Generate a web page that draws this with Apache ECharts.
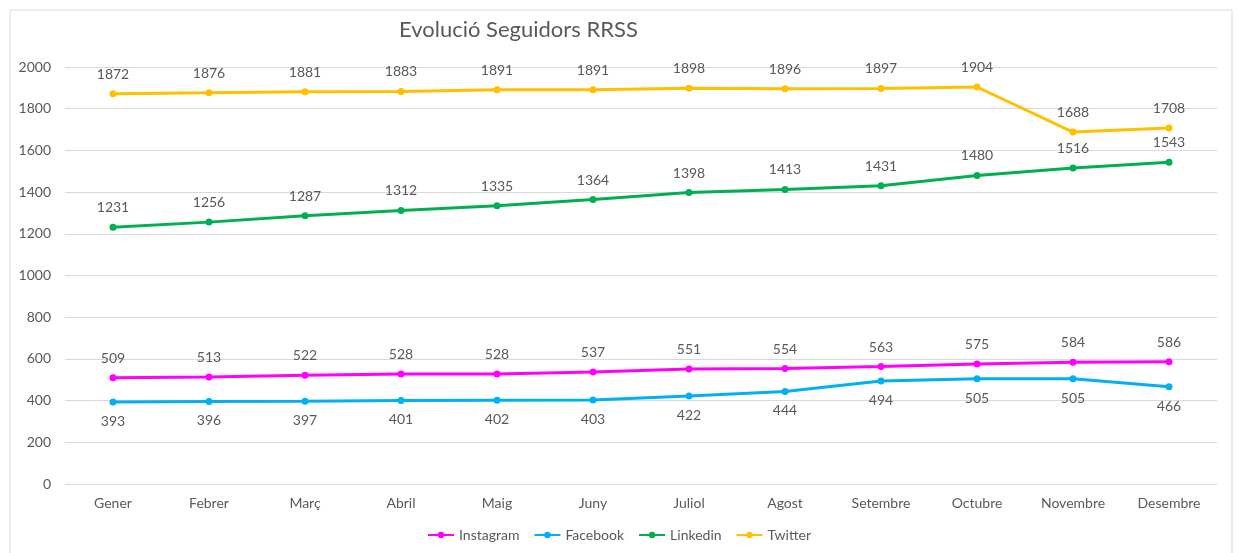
<!DOCTYPE html>
<html>
<head>
<meta charset="utf-8">
<script src="https://cdn.jsdelivr.net/npm/echarts@6/dist/echarts.min.js"></script>
<style>
  html, body { margin: 0; padding: 0; background: #fff; }
  #chart { width: 1238px; height: 553px; }
</style>
</head>
<body>
<div id="chart"></div>
<script>
// mesos
const months = ["Gener", "Febrer", "Març", "Abril", "Maig", "Juny", "Juliol", "Agost", "Setembre", "Octubre", "Novembre", "Desembre"];
// seguidors per xarxa
const instagram = [509, 513, 522, 528, 528, 537, 551, 554, 563, 575, 584, 586];
const facebook = [393, 396, 397, 401, 402, 403, 422, 444, 494, 505, 505, 466];
const linkedin = [1231, 1256, 1287, 1312, 1335, 1364, 1398, 1413, 1431, 1480, 1516, 1543];
const twitter = [1872, 1876, 1881, 1883, 1891, 1891, 1898, 1896, 1897, 1904, 1688, 1708];

const font = "Lato, 'Open Sans', sans-serif";
const textColor = "#595959";

function makeSeries(name, data, color, pos) {
  return {
    name: name,
    type: "line",
    data: data,
    symbol: "circle",
    symbolSize: 7,
    lineStyle: { width: 3, color: color },
    itemStyle: { color: color },
    label: {
      show: true,
      position: pos,
      distance: 9,
      color: textColor,
      fontSize: 14,
      fontFamily: font,
    },
  };
}

const chart = echarts.init(document.getElementById("chart"));
chart.setOption({
  animation: false,
  title: {
    text: "Evolució Seguidors RRSS",
    left: 394,
    top: 14,
    textStyle: { color: textColor, fontSize: 22, fontWeight: "normal", fontFamily: font },
  },
  graphic: [
    {
      type: "rect",
      shape: { x: 10, y: 10, width: 1222, height: 545 },
      style: { fill: "none", stroke: "#d9d9d9", lineWidth: 1 },
      silent: true,
    },
  ],
  legend: {
    bottom: 6,
    left: "center",
    itemWidth: 26,
    itemHeight: 8,
    itemGap: 14,
    itemTextGap: 3,
    textStyle: { color: textColor, fontSize: 14, fontFamily: font },
    data: ["Instagram", "Facebook", "Linkedin", "Twitter"],
  },
  grid: { left: 65, right: 21, top: 67, bottom: 69 },
  xAxis: {
    type: "category",
    data: months,
    axisLine: { show: false },
    axisTick: { show: false },
    axisLabel: { color: textColor, fontSize: 14, fontFamily: font, margin: 12 },
  },
  yAxis: {
    type: "value",
    min: 0,
    max: 2000,
    interval: 200,
    axisLine: { show: false },
    axisTick: { show: false },
    axisLabel: { color: textColor, fontSize: 14, fontFamily: font, margin: 14, formatter: (v) => String(v) },
    splitLine: { lineStyle: { color: "#d9d9d9", width: 1 } },
  },
  series: [
    makeSeries("Instagram", instagram, "#ff00ff", "top"),
    makeSeries("Facebook", facebook, "#00b0f0", "bottom"),
    makeSeries("Linkedin", linkedin, "#00b050", "top"),
    makeSeries("Twitter", twitter, "#ffc000", "top"),
  ],
});
</script>
</body>
</html>
